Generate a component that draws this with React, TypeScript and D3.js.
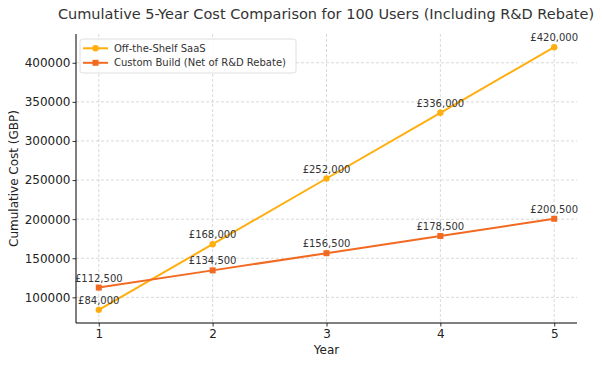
import { useEffect, useRef } from 'react';
import * as d3 from 'd3';

const years = [1, 2, 3, 4, 5];
const saasCost = [84000, 168000, 252000, 336000, 420000];
const customCost = [112500, 134500, 156500, 178500, 200500];
const yTicks = [100000, 150000, 200000, 250000, 300000, 350000, 400000];

const W = 602;
const H = 365;
const font = 'DejaVu Sans, sans-serif';

export default function App() {
    const svgRef = useRef<SVGSVGElement>(null);

    useEffect(() => {
        const svg = d3.select(svgRef.current);
        svg.selectAll('*').remove();

        const left = 76;
        const right = 577;
        const top = 34;
        const bottom = 323;

        const x = d3.scaleLinear().domain([0.8, 5.2]).range([left, right]);
        const all = saasCost.concat(customCost);
        const lo = d3.min(all) as number;
        const hi = d3.max(all) as number;
        const pad = (hi - lo) * 0.05;
        const y = d3.scaleLinear().domain([lo - pad, hi + pad]).range([bottom, top]);

        // grid
        const grid = svg.append('g');
        years.forEach((t) => {
            grid.append('line')
                .attr('x1', x(t)).attr('x2', x(t))
                .attr('y1', top).attr('y2', bottom)
                .attr('stroke', '#cfcfcf').attr('stroke-width', 0.8)
                .attr('stroke-dasharray', '3,2');
        });
        yTicks.forEach((t) => {
            grid.append('line')
                .attr('x1', left).attr('x2', right)
                .attr('y1', y(t)).attr('y2', y(t))
                .attr('stroke', '#cfcfcf').attr('stroke-width', 0.8)
                .attr('stroke-dasharray', '3,2');
        });

        // axes
        const xAxis = svg.append('g')
            .attr('transform', `translate(0,${bottom})`)
            .call(d3.axisBottom(x).tickValues(years).tickFormat(d3.format('d')).tickSizeOuter(0).tickSize(3.5));
        const yAxis = svg.append('g')
            .attr('transform', `translate(${left},0)`)
            .call(d3.axisLeft(y).tickValues(yTicks).tickFormat(d3.format('d')).tickSizeOuter(0).tickSize(3.5));
        [xAxis, yAxis].forEach((a) => {
            a.select('.domain').attr('stroke', '#000').attr('stroke-width', 1)
                .attr('d', a === xAxis ? `M${left},0H${right}` : `M0,${top}V${bottom}`);
            a.selectAll('.tick line').attr('stroke', '#000').attr('stroke-width', 0.8);
            a.selectAll('.tick text')
                .attr('font-family', font).attr('font-size', 12).attr('fill', '#222');
        });
        yAxis.selectAll('.tick text').attr('x', -5.5);

        // axis labels
        svg.append('text')
            .attr('x', (left + right) / 2).attr('y', 354)
            .attr('text-anchor', 'middle')
            .attr('font-family', font).attr('font-size', 12).attr('fill', '#222')
            .text('Year');
        svg.append('text')
            .attr('transform', `translate(18,${(top + bottom) / 2}) rotate(-90)`)
            .attr('text-anchor', 'middle')
            .attr('font-family', font).attr('font-size', 12).attr('fill', '#222')
            .text('Cumulative Cost (GBP)');

        // title
        svg.append('text')
            .attr('x', 326).attr('y', 19)
            .attr('text-anchor', 'middle')
            .attr('font-family', font).attr('font-size', 14.5).attr('fill', '#333')
            .text('Cumulative 5-Year Cost Comparison for 100 Users (Including R&D Rebate)');

        const series = [
            { name: 'Off-the-Shelf SaaS', values: saasCost, color: '#ffae0d', marker: 'circle' },
            { name: 'Custom Build (Net of R&D Rebate)', values: customCost, color: '#f26a21', marker: 'square' },
        ];

        const line = d3.line<number>()
            .x((_, i) => x(years[i]))
            .y((d) => y(d));

        const fmt = (v: number) => '£' + d3.format(',')(v);

        series.forEach((s) => {
            svg.append('path')
                .attr('d', line(s.values))
                .attr('fill', 'none')
                .attr('stroke', s.color)
                .attr('stroke-width', 2);
            s.values.forEach((v, i) => {
                if (s.marker === 'circle') {
                    svg.append('circle')
                        .attr('cx', x(years[i])).attr('cy', y(v)).attr('r', 3.2)
                        .attr('fill', s.color);
                } else {
                    svg.append('rect')
                        .attr('x', x(years[i]) - 3).attr('y', y(v) - 3)
                        .attr('width', 6).attr('height', 6)
                        .attr('fill', s.color);
                }
                svg.append('text')
                    .attr('x', x(years[i])).attr('y', y(v) - 6)
                    .attr('text-anchor', 'middle')
                    .attr('font-family', font).attr('font-size', 10).attr('fill', '#333')
                    .text(fmt(v));
            });
        });

        // legend
        const lg = svg.append('g').attr('transform', 'translate(80,39)');
        lg.append('rect')
            .attr('width', 216).attr('height', 34).attr('rx', 2.5)
            .attr('fill', 'white').attr('fill-opacity', 0.8)
            .attr('stroke', '#d6d6d6').attr('stroke-width', 0.8);
        series.forEach((s, i) => {
            const cy = 9.3 + i * 14.5;
            lg.append('line')
                .attr('x1', 3).attr('x2', 28).attr('y1', cy).attr('y2', cy)
                .attr('stroke', s.color).attr('stroke-width', 2);
            if (s.marker === 'circle') {
                lg.append('circle').attr('cx', 15.5).attr('cy', cy).attr('r', 3.2).attr('fill', s.color);
            } else {
                lg.append('rect').attr('x', 12.5).attr('y', cy - 3).attr('width', 6).attr('height', 6).attr('fill', s.color);
            }
            lg.append('text')
                .attr('x', 34).attr('y', cy + 3.5)
                .attr('font-family', font).attr('font-size', 10).attr('fill', '#333')
                .text(s.name);
        });
    }, []);

    return <svg ref={svgRef} width={W} height={H} style={{ display: 'block', margin: '-8px 0 0 -8px' }} />;
}
